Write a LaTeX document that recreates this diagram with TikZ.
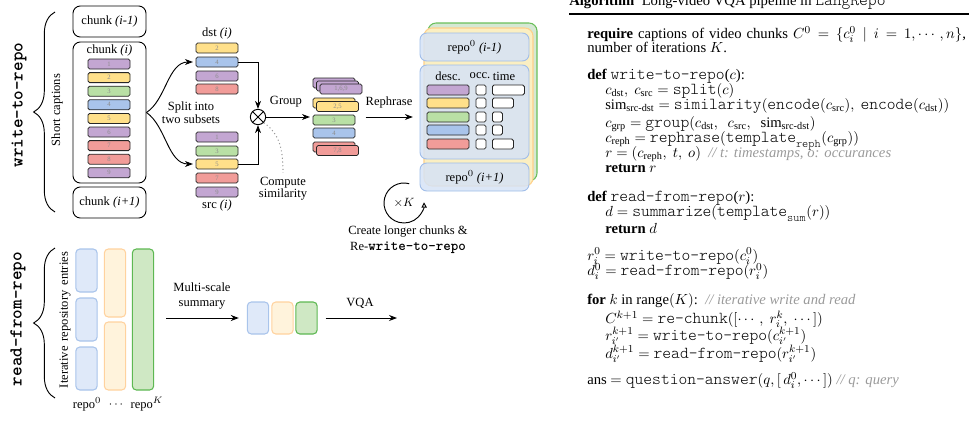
\documentclass[tikz,border=0pt]{standalone}
\usepackage{fontspec}
\usepackage{amsmath}
\setmainfont{Liberation Serif}
\setmonofont{lmmonolt10-regular.otf}[Scale=1.14, BoldFont=lmmonolt10-bold.otf]
\usetikzlibrary{arrows.meta, decorations.pathreplacing, calc}
\definecolor{cpur}{HTML}{C3A6D2}
\definecolor{cyel}{HTML}{FFE08A}
\definecolor{cgrn}{HTML}{B9E0A5}
\definecolor{cblu}{HTML}{A9C4EB}
\definecolor{cred}{HTML}{F19C99}
\definecolor{rbfill}{HTML}{D6E3F6}
\definecolor{rbline}{HTML}{A0BDE8}
\definecolor{ryfill}{HTML}{FBEFC2}
\definecolor{ryline}{HTML}{FFD08A}
\definecolor{rgfill}{HTML}{D5E8D4}
\definecolor{rgline}{HTML}{6ABF5A}
\definecolor{obfill}{HTML}{DFE9F9}
\definecolor{oofill}{HTML}{FFF3DC}
\definecolor{ooline}{HTML}{FFD29E}
\definecolor{ogfill}{HTML}{CFE8C4}
\definecolor{ogline}{HTML}{5DB852}
\definecolor{cmt}{HTML}{9A9A9A}
\tikzset{
  chunkbox/.style={draw, rounded corners=5.5pt, minimum width=54.75pt, minimum height=23.25pt, line width=0.7pt, inner sep=0pt},
  bar/.style={draw=black!85, rounded corners=1.2pt, line width=0.6pt, minimum width=31.5pt, minimum height=7.5pt, inner sep=0pt, font=\fontsize{5}{5}\selectfont, text=black!45},
  occbox/.style={draw=black!85, fill=white, rounded corners=1.2pt, minimum width=7.5pt, minimum height=7.5pt, inner sep=0pt, line width=0.6pt},
  repobox/.style={draw=rbline, fill=rbfill, fill opacity=0.85, text opacity=1, rounded corners=5pt, minimum width=81.75pt, line width=0.7pt, inner sep=0pt},
  layerbox/.style={rounded corners=6pt, minimum width=81.75pt, minimum height=118.5pt, line width=0.8pt, inner sep=0pt},
  colbox/.style={rounded corners=3pt, line width=0.8pt, minimum width=16pt, inner sep=0pt},
  bigbrace/.style={decorate, decoration={brace, amplitude=16pt}, line width=0.7pt},
  arr/.style={->, line width=0.7pt},
  biglabel/.style={rotate=90, font=\fontsize{12}{12}\selectfont\ttfamily\bfseries},
  alg/.style={anchor=base west, inner sep=0pt, font=\fontsize{11}{13}\selectfont},
}
\newcommand{\cmtx}[1]{\textcolor{cmt}{\textit{#1}}}
\newcommand{\tx}[1]{\text{\ttfamily #1}}
\begin{document}
\begin{tikzpicture}[x=0.75pt, y=-0.75pt, font=\fontsize{9.4}{11}\selectfont, >={Stealth[length=6pt,width=4.5pt]}]
\useasboundingbox (0,0) rectangle (969,421);

% ---------------- write-to-repo ----------------
\node[biglabel] (wtr) at (19,105) {write-to-repo};
\coordinate (brAa) at (55,212);
\coordinate (brAb) at (55,12);
\draw[bigbrace] (brAa) -- (brAb);
\node[rotate=90] (sc) at (57,110) {Short captions};

\node[chunkbox] (cim1) at (109.5,21.5) {chunk \textit{(i-1)}};
\node[chunkbox, minimum height=105.75pt] (ci) at (109.5,112.5) {};
\node (cilab) at (109.5,50) {chunk \textit{(i)}};
\foreach \n/\c [count=\k from 0] in {1/cpur,2/cyel,3/cgrn,4/cblu,5/cyel,6/cpur,7/cred,8/cred,9/cpur}
  \node[bar, fill=\c] (b\n) at (109, 64+13.6*\k) {\n};
\node[chunkbox] (cip1) at (109.5,202.5) {chunk \textit{(i+1)}};

% dst / src
\node (dstlab) at (217,33) {dst \textit{(i)}};
\foreach \n/\c/\y in {2/cyel/48,4/cblu/62,6/cpur/76,8/cred/89}
  \node[bar, fill=\c] (d\n) at (217,\y) {\n};
\foreach \n/\c/\y in {1/cpur/137,3/cgrn/151,5/cyel/164,7/cred/178,9/cpur/192}
  \node[bar, fill=\c] (s\n) at (217,\y) {\n};
\node (srclab) at (217,205) {src \textit{(i)}};

\node[align=center, font=\fontsize{9.4}{8.5}\selectfont] (split) at (191,113) {Split into\\two subsets};
\draw[arr, shorten >=2pt] (ci.east) .. controls (166,100) and (168,62) .. (d4.west);
\draw[arr, shorten >=2pt] (ci.east) .. controls (166,126) and (168,164) .. (s5.west);

% similarity
\node[circle, draw, line width=0.7pt, minimum size=11.5pt, inner sep=0pt] (ox) at (258,117) {};
\draw[line width=0.6pt] (ox.45) -- (ox.225) (ox.135) -- (ox.315);
\draw[arr] (d4.east) -| (ox.north);
\draw[arr] (s5.east) -| (ox.south);
\node[align=center, font=\fontsize{9.4}{9}\selectfont] (cs) at (283,189) {Compute\\similarity};
\draw[dotted, cmt, line width=0.8pt] (ox.-45) .. controls (280,134) and (283,150) .. (cs.north);

% grouped
\node[bar, fill=cpur] (g169a) at (334,83) {};
\node[bar, fill=cpur] (g169b) at (337.5,86) {};
\node[bar, fill=cpur] (g169c) at (341,89) {1,6,9};
\node[bar, fill=cyel] (g25a) at (334,103) {};
\node[bar, fill=cyel] (g25b) at (337.5,106.5) {2,5};
\node[bar, fill=cgrn] (g3) at (334,120) {3};
\node[bar, fill=cblu] (g4) at (334,133) {4};
\node[bar, fill=cred] (g78a) at (334,147) {};
\node[bar, fill=cred] (g78b) at (337.5,150.5) {7,8};
\draw[arr, shorten >=2pt] (ox.east) -- (ox.east -| g3.west);
\node (grouplab) at (286,102) {Group};

% repository (stacked iterations behind)
\node[layerbox, draw=rgline, fill=rgfill] (laygreen) at (482.5,102) {};
\node[layerbox, draw=ryline, fill=ryfill] (layyellow) at (478.5,107) {};
\node[repobox, minimum height=21pt] (rtop) at (474.5,47) {repo$^0$ \textit{(i-1)}};
\node[repobox, minimum height=70.5pt] (rmid) at (474.5,112) {};
\node[repobox, minimum height=21pt] (rbot) at (474.5,177) {repo$^0$ \textit{(i+1)}};
\node (hdesc) at (448,76) {desc.};
\node (hocc) at (480,76) {occ.};
\node (htime) at (504,76) {time};
\foreach \c/\y/\w [count=\r] in {cpur/90/24pt, cyel/103/15.75pt, cgrn/117/7.5pt, cblu/130/7.5pt, cred/144/15.75pt} {
  \node[bar, fill=\c] (desc\r) at (448,\y) {};
  \node[occbox] (occ\r) at (481,\y) {};
  \node[bar, fill=white, anchor=west, minimum width=\w] (time\r) at (492,\y) {};
}
\draw[arr, shorten <=5pt, shorten >=5pt] (ox.east -| g25b.east) -- (ox.east -| rmid.west);
\node (rephlab) at (389,102) {Rephrase};

% loop
\node (loopk) at (404,203) {$\times K$};
\begin{scope}[shift={(404,203)}, x=0.75pt, y=0.75pt]
  \draw[-{Triangle[open,length=4pt,width=4pt]}, line width=0.7pt] (75:20) arc[start angle=75, end angle=362, radius=20];
\end{scope}
\node[align=center, font=\fontsize{9.4}{12}\selectfont] (clc) at (408,240) {Create longer chunks \&\\Re-\textbf{\texttt{write-to-repo}}};

% ---------------- read-from-repo ----------------
\node[biglabel] (rfr) at (18,319) {read-from-repo};
\coordinate (brBa) at (55,398);
\coordinate (brBb) at (55,248);
\draw[bigbrace] (brBa) -- (brBb);
\node[rotate=90] (ire) at (65,320) {\makebox[102pt][s]{Iterative repository entries}};

\node[colbox, draw=cblu, fill=obfill, minimum height=32.25pt] (rb1) at (86.5,270.5) {};
\node[colbox, draw=cblu, fill=obfill, minimum height=32.25pt] (rb2) at (86.5,319.5) {};
\node[colbox, draw=cblu, fill=obfill, minimum height=32.25pt] (rb3) at (86.5,368.5) {};
\node[colbox, draw=ooline, fill=oofill, minimum height=51pt] (ro1) at (115,283) {};
\node[colbox, draw=ooline, fill=oofill, minimum height=51pt] (ro2) at (115,356) {};
\node[colbox, draw=ogline, fill=ogfill, minimum height=105.75pt] (rK) at (143,319.5) {};
\node (rl0) at (87,404) {repo$^0$};
\node (rldots) at (117,405) {$\cdots$};
\node (rlK) at (147,404) {repo$^K$};

\node[colbox, draw=cblu, fill=obfill, minimum height=24pt] (sb1) at (258,318) {};
\node[colbox, draw=ooline, fill=oofill, minimum height=24pt] (sb2) at (282.5,318) {};
\node[colbox, draw=ogline, fill=ogfill, minimum height=24pt] (sb3) at (306.5,318) {};
\draw[arr, shorten <=9pt, shorten >=6pt] (rK.east |- sb1.west) -- (sb1.west);
\node[align=center, font=\fontsize{9.4}{11}\selectfont] (mss) at (202,296) {Multi-scale\\summary};
\coordinate (vqaend) at (397,318);
\draw[arr, shorten <=6pt] (sb3.east) -- (vqaend);
\node (vqa) at (360,303) {VQA};

% ---------------- algorithm ----------------
\node[alg] (alghead) at (569,5) {\textbf{Algorithm}\ \ Long-video VQA pipeline in \texttt{LangRepo}};
\coordinate (ruleL) at (569,14);
\coordinate (ruleR) at (975,14);
\draw[line width=0.8pt] (ruleL) -- (ruleR);

\node[alg] (a1) at (587,38.5) {\makebox[284pt][s]{\textbf{require} captions of video chunks $C^0=\{c_i^0 \mid i=1,\cdots,n\}$,}};
\node[alg] (a2) at (587,52) {number of iterations $K$.};
\node[alg] (a3) at (587,79) {\textbf{def} \texttt{write-to-repo}($c$):};
\node[alg] (a4) at (605,94.5) {$c_\text{dst},\ c_\text{src} = \tx{split}(c)$};
\node[alg] (a5) at (605,109.5) {$\text{sim}_\text{src-dst} = \tx{similarity}(\tx{encode}(c_\text{src}),\ \tx{encode}(c_\text{dst}))$};
\node[alg] (a6) at (605,127) {$c_\text{grp} = \tx{group}(c_\text{dst},\ \ c_\text{src},\ \ \text{sim}_\text{src-dst})$};
\node[alg] (a7) at (605,142.5) {$c_\text{reph} = \tx{rephrase}(\tx{template}_\tx{reph}(c_\text{grp}))$};
\node[alg] (a8) at (605,157.5) {$r = (c_\text{reph},\ t,\ o)$\ \ \cmtx{// t: timestamps, o: occurances}};
\node[alg] (a9) at (605,172) {\textbf{return} $r$};
\node[alg] (a10) at (587,201.5) {\textbf{def} \texttt{read-from-repo}($r$):};
\node[alg] (a11) at (605,216.5) {$d = \tx{summarize}(\tx{template}_\tx{sum}(r))$};
\node[alg] (a12) at (605,233) {\textbf{return} $d$};
\node[alg] (a13) at (587,260) {$r_i^0 = \tx{write-to-repo}(c_i^0)$};
\node[alg] (a14) at (587,275.5) {$d_i^0 = \tx{read-from-repo}(r_i^0)$};
\node[alg] (a15) at (587,304.5) {\textbf{for} $k$ in range$(K)$:\ \ \cmtx{// iterative write and read}};
\node[alg] (a16) at (605,323.5) {$C^{k+1} = \tx{re-chunk}([\cdots,\ r_i^k,\ \cdots])$};
\node[alg] (a17) at (605,340.5) {$r_{i'}^{k+1} = \tx{write-to-repo}(c_{i'}^{k+1})$};
\node[alg] (a18) at (605,358.5) {$d_{i'}^{k+1} = \tx{read-from-repo}(r_{i'}^{k+1})$};
\node[alg] (a19) at (587,384.5) {ans $= \tx{question-answer}(q, [\,d_i^0, \cdots])$ \cmtx{// q: query}};
\end{tikzpicture}
\end{document}
